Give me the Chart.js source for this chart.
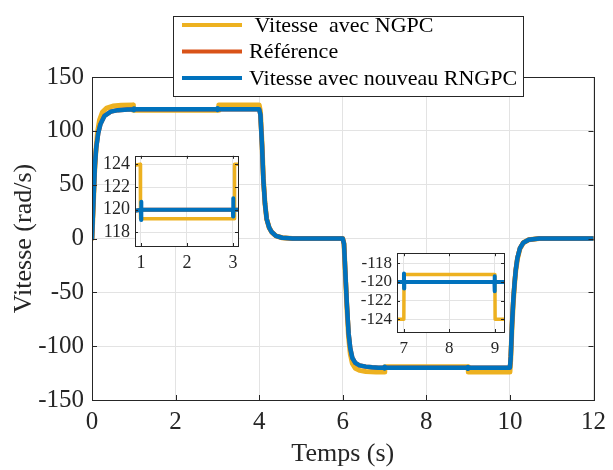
<!DOCTYPE html>
<html>
<head>
<meta charset="utf-8">
<script src="https://cdn.jsdelivr.net/npm/chart.js@4.4.1/dist/chart.umd.min.js"></script>
<style>
  body { margin: 0; background: #fff; }
  #wrap { position: relative; width: 613px; height: 470px; }
  canvas { position: absolute; }
</style>
</head>
<body>
<div id="wrap">
  <canvas id="mainChart" width="613" height="470" style="left:0;top:0"></canvas>
  <canvas id="inset1" width="150" height="135" style="left:95px;top:140px"></canvas>
  <canvas id="inset2" width="160" height="125" style="left:355px;top:238px"></canvas>
</div>
<script>
// Données (temps en s, vitesse en rad/s)
var seriesLabels = [' Vitesse  avec NGPC', 'Référence', 'Vitesse avec nouveau RNGPC'];
var seriesColors = ['#EDB120', '#D95319', '#0072BD'];

var ngpcT = [0, 0.03, 0.06, 0.09, 0.13, 0.18, 0.25, 0.35, 0.5, 0.7, 0.985, 0.99, 3.03, 3.035,
             4.0, 4.03, 4.07, 4.1, 4.14, 4.18, 4.24, 4.3, 4.4, 4.55, 4.8,
             6.0, 6.03, 6.06, 6.1, 6.14, 6.18, 6.23, 6.3, 6.4, 6.55, 6.8, 7.0, 7.005, 9.0, 9.005,
             10.0, 10.02, 10.05, 10.08, 10.11, 10.14, 10.18, 10.24, 10.32, 10.45, 10.7, 12];
var ngpcV = [0, 28, 60, 80, 98, 110, 117.5, 121, 123, 123.8, 124, 119.2, 119.2, 124,
             124, 118, 87, 56, 32, 18, 10, 6, 2.5, 0.7, 0,
             0, -5, -32, -65, -92, -107, -116, -120.5, -122.5, -123.5, -124, -124, -119.2, -119.2, -124,
             -124, -112, -82, -60, -43, -30, -19, -9.5, -4, -1.2, 0, 0];

var refT = [0, 0.03, 0.07, 0.1, 0.15, 0.2, 0.3, 0.45, 0.62, 0.85, 1.0,
            4.0, 4.03, 4.07, 4.1, 4.14, 4.18, 4.24, 4.3, 4.4, 4.55, 4.8,
            6.0, 6.03, 6.06, 6.1, 6.14, 6.18, 6.23, 6.3, 6.4, 6.55, 6.7, 6.85,
            10.0, 10.02, 10.05, 10.08, 10.11, 10.14, 10.18, 10.24, 10.32, 10.45, 10.7, 12];
var refV = [0, 30, 68, 84, 98, 106, 114, 117.8, 119.2, 119.9, 120,
            120, 115, 85, 55, 32, 18, 10, 6, 2.5, 0.7, 0,
            0, -5, -30, -62, -88, -102, -111, -115.5, -117.8, -119, -119.6, -120,
            -120, -110, -80, -58, -42, -29, -18, -9, -4, -1.2, 0, 0];

var rngpcT = [0, 0.03, 0.07, 0.1, 0.15, 0.2, 0.3, 0.45, 0.62, 0.85, 1.0, 1.003, 1.006, 1.009,
              3.0, 3.003, 3.006, 3.009,
              4.0, 4.03, 4.07, 4.1, 4.14, 4.18, 4.24, 4.3, 4.4, 4.55, 4.8,
              6.0, 6.03, 6.06, 6.1, 6.14, 6.18, 6.23, 6.3, 6.4, 6.55, 6.7, 6.85,
              7.0, 7.003, 7.006, 7.009, 8.99, 8.993, 8.996, 8.999,
              10.0, 10.02, 10.05, 10.08, 10.11, 10.14, 10.18, 10.24, 10.32, 10.45, 10.7, 12];
var rngpcV = [0, 30, 68, 84, 98, 106, 114, 117.8, 119.2, 119.9, 120, 119.1, 120.7, 120,
              120, 119.4, 121, 120,
              120, 115, 85, 55, 32, 18, 10, 6, 2.5, 0.7, 0,
              0, -5, -30, -62, -88, -102, -111, -115.5, -117.8, -119, -119.6, -120,
              -120, -119.1, -120.7, -120, -120, -119.4, -121, -120,
              -120, -110, -80, -58, -42, -29, -18, -9, -4, -1.2, 0, 0];

// Graduations
var mainXTicks = [0, 2, 4, 6, 8, 10, 12];
var mainYTicks = [-150, -100, -50, 0, 50, 100, 150];
var inset1XTicks = [1, 2, 3];
var inset1YTicks = [118, 120, 122, 124];
var inset2XTicks = [7, 8, 9];
var inset2YTicks = [-124, -122, -120, -118];

var FONT = 'Liberation Serif, Times New Roman, serif';
var AXIS = '#262626';
var GRID = '#e3e3e3';

function toPoints(ts, vs) {
    return ts.map(function(t, i) { return {x: t, y: vs[i]}; });
}

function makeDatasets(widths) {
    var all = [[ngpcT, ngpcV], [refT, refV], [rngpcT, rngpcV]];
    return all.map(function(s, i) {
        return {
            label: seriesLabels[i],
            data: toPoints(s[0], s[1]),
            borderColor: seriesColors[i],
            backgroundColor: seriesColors[i],
            borderWidth: widths[i],
            borderJoinStyle: 'round',
            borderCapStyle: 'round',
            order: 2 - i, // le bleu par-dessus, comme dans MATLAB
            pointRadius: 0,
            tension: 0,
            fill: false
        };
    });
}

// cadre + graduations vers l'intérieur façon MATLAB
var boxPlugin = {
    id: 'boxPlugin',
    beforeDraw: function(chart) {
        var a = chart.chartArea, ctx = chart.ctx;
        ctx.save();
        ctx.fillStyle = '#fff';
        if (chart.options.plugins.boxPlugin.fillAll) {
            ctx.fillRect(0, 0, chart.width, chart.height);
        } else {
            ctx.fillRect(a.left, a.top, a.right - a.left, a.bottom - a.top);
        }
        ctx.restore();
    },
    afterDatasetsDraw: function(chart) {
        var a = chart.chartArea, ctx = chart.ctx;
        var len = chart.options.plugins.boxPlugin.tick;
        ctx.save();
        ctx.strokeStyle = AXIS;
        ctx.lineWidth = 1;
        ctx.beginPath();
        chart.scales.x.ticks.forEach(function(t) {
            var px = Math.round(chart.scales.x.getPixelForValue(t.value)) + 0.5;
            ctx.moveTo(px, a.bottom); ctx.lineTo(px, a.bottom - len);
            ctx.moveTo(px, a.top); ctx.lineTo(px, a.top + len);
        });
        chart.scales.y.ticks.forEach(function(t) {
            var py = Math.round(chart.scales.y.getPixelForValue(t.value)) + 0.5;
            ctx.moveTo(a.left, py); ctx.lineTo(a.left + len, py);
            ctx.moveTo(a.right, py); ctx.lineTo(a.right - len, py);
        });
        ctx.stroke();
        ctx.strokeRect(Math.round(a.left) + 0.5, Math.round(a.top) + 0.5,
                       Math.round(a.right - a.left), Math.round(a.bottom - a.top));
        ctx.restore();
    }
};

// légende dessinée à la main (elle chevauche le haut des axes)
var legendPlugin = {
    id: 'legendPlugin',
    afterDraw: function(chart) {
        var ctx = chart.ctx;
        var bx = 173, by = 16, bw = 350, bh = 80;
        ctx.save();
        ctx.fillStyle = '#fff';
        ctx.fillRect(bx, by, bw, bh);
        ctx.strokeStyle = AXIS;
        ctx.lineWidth = 1;
        ctx.strokeRect(bx + 0.5, by + 0.5, bw, bh);
        ctx.font = '22px ' + FONT;
        ctx.textBaseline = 'middle';
        ctx.fillStyle = '#000';
        chart.data.datasets.forEach(function(ds, i) {
            var y = 25 + i * 26.5;
            ctx.strokeStyle = ds.borderColor;
            ctx.lineWidth = 4;
            ctx.beginPath();
            ctx.moveTo(182, y); ctx.lineTo(242, y);
            ctx.stroke();
            ctx.fillText(ds.label, 249, y + 1);
        });
        ctx.restore();
    }
};

function fixedTicks(arr) {
    return function(scale) { scale.ticks = arr.map(function(v) { return {value: v}; }); };
}

function buildChart(id, cfg) {
    return new Chart(document.getElementById(id), {
        type: 'line',
        data: { datasets: makeDatasets(cfg.widths) },
        options: {
            responsive: false,
            animation: false,
            devicePixelRatio: 1,
            layout: { padding: cfg.padding },
            plugins: {
                legend: { display: false },
                tooltip: { enabled: false },
                boxPlugin: { tick: cfg.tick, fillAll: cfg.fillAll }
            },
            scales: {
                x: {
                    type: 'linear',
                    min: cfg.xmin, max: cfg.xmax,
                    afterBuildTicks: fixedTicks(cfg.xticks),
                    afterFit: function(s) { s.height = cfg.xh; },
                    grid: { color: GRID, drawTicks: false },
                    border: { display: false },
                    ticks: {
                        padding: cfg.xpad,
                        color: AXIS,
                        maxRotation: 0,
                        font: { family: FONT, size: cfg.fs },
                        callback: function(v) { return String(v); }
                    },
                    title: cfg.xtitle ? {
                        display: true, text: cfg.xtitle, color: AXIS,
                        font: { family: FONT, size: 26 },
                        padding: { top: 0, bottom: 0 }
                    } : { display: false }
                },
                y: {
                    min: cfg.ymin, max: cfg.ymax,
                    afterBuildTicks: fixedTicks(cfg.yticks),
                    afterFit: function(s) { s.width = cfg.yw; },
                    grid: { color: GRID, drawTicks: false },
                    border: { display: false },
                    ticks: {
                        padding: cfg.ypad,
                        color: AXIS,
                        font: { family: FONT, size: cfg.fs },
                        callback: function(v) { return String(v); }
                    },
                    title: cfg.ytitle ? {
                        display: true, text: cfg.ytitle, color: AXIS,
                        font: { family: FONT, size: 26 },
                        padding: { top: 9, bottom: 0 }
                    } : { display: false }
                }
            }
        },
        plugins: cfg.legend ? [boxPlugin, legendPlugin] : [boxPlugin]
    });
}

var mainChart = buildChart('mainChart', {
    widths: [5, 4.5, 4.5],
    padding: { left: 0, right: 15, top: 77, bottom: 0 },
    xmin: 0, xmax: 12, ymin: -150, ymax: 150,
    xticks: mainXTicks, yticks: mainYTicks,
    xh: 70, yw: 92, xpad: 7, ypad: 8, fs: 25, tick: 5,
    xtitle: 'Temps (s)', ytitle: 'Vitesse (rad/s)',
    fillAll: true, legend: true
});

var insetChart1 = buildChart('inset1', {
    widths: [3.5, 4, 4],
    padding: { left: 0, right: 7, top: 6, bottom: 0 },
    xmin: 0.87, xmax: 3.11, ymin: 116.8, ymax: 124.75,
    xticks: inset1XTicks, yticks: inset1YTicks,
    xh: 29, yw: 40, xpad: 6, ypad: 5, fs: 18, tick: 3,
    fillAll: false, legend: false
});

var insetChart2 = buildChart('inset2', {
    widths: [3.5, 4, 4],
    padding: { left: 0, right: 11, top: 7, bottom: 0 },
    xmin: 6.85, xmax: 9.2, ymin: -125.36, ymax: -116.93,
    xticks: inset2XTicks, yticks: inset2YTicks,
    xh: 31, yw: 42, xpad: 6, ypad: 5, fs: 17, tick: 3,
    fillAll: false, legend: false
});
</script>
</body>
</html>
